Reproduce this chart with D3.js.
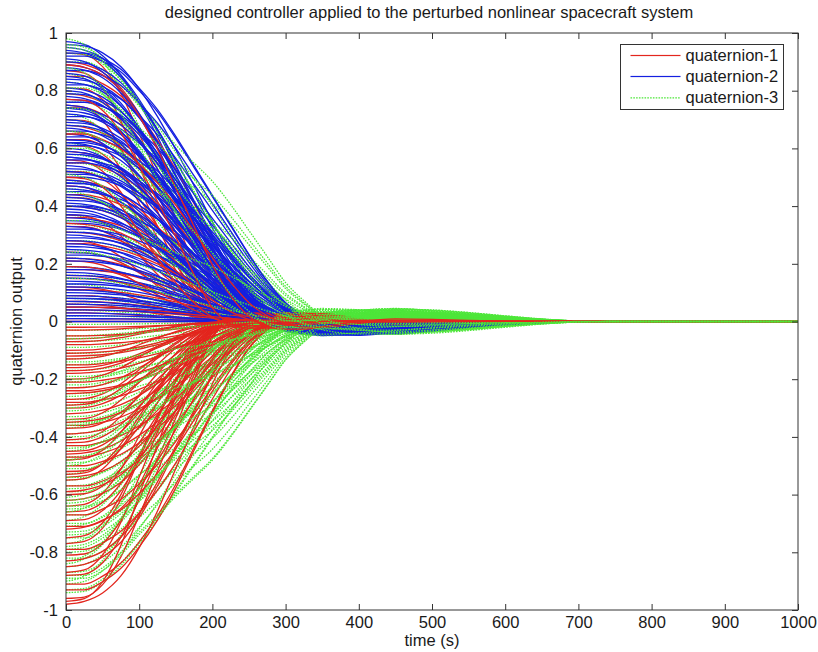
<!DOCTYPE html>
<html>
<head>
<meta charset="utf-8">
<script src="https://cdn.jsdelivr.net/npm/d3@7"></script>
<style>
  body { margin: 0; background: #fff; }
  text { font-family: "Liberation Sans", Arial, Helvetica, sans-serif; fill: #1a1a1a; }
  .axis path, .axis line { stroke: #333; }
</style>
</head>
<body>
<div id="vis"></div>
<script>
// time samples (s) shared by all the response profiles
const tSample = [0, 25, 50, 75, 100, 125, 150, 175, 200, 225, 250, 275, 300, 325, 350, 400, 450, 500, 550, 600, 650, 700, 750, 1000];

// normalised responses (fast -> slow)
const q1Profiles = [
  [1, 0.995, 0.95, 0.85, 0.70, 0.54, 0.38, 0.21, 0.06, -0.01, -0.03, -0.03, -0.02, -0.01, 0, 0.005, 0.005, 0.003, 0.002, 0.001, 0, 0, 0, 0],
  [1, 0.99, 0.96, 0.90, 0.80, 0.67, 0.52, 0.37, 0.22, 0.10, 0.02, -0.02, -0.03, -0.03, -0.02, 0, 0.01, 0.008, 0.004, 0.002, 0, 0, 0, 0],
  [1, 0.99, 0.93, 0.80, 0.62, 0.44, 0.27, 0.13, 0.03, -0.02, -0.03, -0.025, -0.015, -0.005, 0, 0.004, 0.004, 0.002, 0.001, 0, 0, 0, 0, 0],
  [1, 1, 0.97, 0.92, 0.84, 0.74, 0.62, 0.48, 0.34, 0.21, 0.10, 0.03, -0.01, -0.03, -0.03, -0.01, 0.005, 0.006, 0.004, 0.002, 0.001, 0, 0, 0]
];
const q2Profiles = [
  [1, 0.99, 0.95, 0.88, 0.78, 0.66, 0.52, 0.38, 0.25, 0.13, 0.04, -0.01, -0.035, -0.045, -0.05, -0.045, -0.035, -0.025, -0.015, -0.008, -0.003, 0, 0, 0],
  [1, 0.995, 0.97, 0.92, 0.84, 0.74, 0.62, 0.49, 0.36, 0.24, 0.13, 0.05, 0, -0.03, -0.045, -0.05, -0.04, -0.03, -0.018, -0.01, -0.004, 0, 0, 0],
  [1, 0.99, 0.96, 0.90, 0.81, 0.70, 0.57, 0.44, 0.31, 0.19, 0.09, 0.02, -0.02, -0.04, -0.048, -0.048, -0.038, -0.028, -0.017, -0.009, -0.004, 0, 0, 0],
  [1, 1, 0.98, 0.94, 0.87, 0.79, 0.69, 0.58, 0.47, 0.36, 0.25, 0.15, 0.07, 0.02, -0.015, -0.045, -0.045, -0.035, -0.022, -0.012, -0.005, 0, 0, 0]
];
const q3Profiles = [
  [1, 0.98, 0.92, 0.82, 0.69, 0.56, 0.43, 0.31, 0.20, 0.11, 0.04, -0.01, -0.035, -0.045, -0.05, -0.045, -0.035, -0.025, -0.015, -0.008, -0.003, 0, 0, 0],
  [1, 0.99, 0.95, 0.88, 0.79, 0.69, 0.58, 0.47, 0.36, 0.26, 0.17, 0.09, 0.03, -0.01, -0.03, -0.045, -0.045, -0.035, -0.025, -0.014, -0.006, -0.001, 0, 0],
  [1, 0.995, 0.96, 0.90, 0.82, 0.73, 0.63, 0.53, 0.43, 0.33, 0.24, 0.15, 0.08, 0.03, -0.01, -0.04, -0.048, -0.04, -0.03, -0.018, -0.008, -0.002, 0, 0],
  [1, 1, 0.97, 0.91, 0.83, 0.76, 0.68, 0.61, 0.54, 0.45, 0.35, 0.25, 0.15, 0.08, 0.02, -0.03, -0.048, -0.045, -0.035, -0.022, -0.010, -0.002, 0, 0]
];

// initial values of each run (t = 0)
const q1Start = [0.93, 0.90, 0.87, 0.85, 0.81, 0.79, 0.75, 0.74, 0.70, 0.68, 0.66, 0.63, 0.61, 0.59, 0.56, 0.55, 0.52, 0.49, 0.47, 0.44, 0.43, 0.40, 0.37, 0.36, 0.33, 0.31, 0.28, 0.27, 0.24, 0.22, 0.21, 0.18, 0.16, 0.15, 0.12, 0.11, 0.09, 0.07, 0.06, 0.04, 0.03, 0.01, 0.00, -0.02, -0.03, -0.05, -0.06, -0.08, -0.10, -0.11, -0.13, -0.15, -0.16, -0.18, -0.20, -0.21, -0.23, -0.25, -0.27, -0.28, -0.30, -0.32, -0.34, -0.36, -0.37, -0.39, -0.41, -0.43, -0.45, -0.46, -0.48, -0.50, -0.52, -0.54, -0.55, -0.57, -0.60, -0.62, -0.64, -0.67, -0.69, -0.72, -0.75, -0.79, -0.81, -0.85, -0.87, -0.91, -0.96, -0.98,
  -0.97, -0.93, -0.88, -0.83, -0.77, -0.71, -0.66, -0.59, -0.53, -0.47, -0.42, -0.35, -0.29, -0.24, -0.17, -0.12, -0.07, 0.05, 0.19, 0.34, 0.50, 0.65, 0.77, 0.89];
const q2Start = [0.97, 0.96, 0.94, 0.93, 0.91, 0.90, 0.88, 0.87, 0.86, 0.84, 0.83, 0.82, 0.80, 0.79, 0.78, 0.76, 0.75, 0.74, 0.72, 0.71, 0.70, 0.69, 0.67, 0.66, 0.65, 0.63, 0.62, 0.61, 0.60, 0.58, 0.57, 0.56, 0.54, 0.53, 0.52, 0.50, 0.49, 0.48, 0.46, 0.45, 0.44, 0.42, 0.41, 0.40, 0.38, 0.37, 0.36, 0.34, 0.33, 0.31, 0.30, 0.29, 0.27, 0.26, 0.25, 0.23, 0.22, 0.21, 0.19, 0.18, 0.17, 0.15, 0.14, 0.13, 0.11, 0.10, 0.09, 0.08, 0.07, 0.06, 0.05, 0.04, 0.03, 0.02, 0.01, 0.00, 0.74, 0.68, 0.59, 0.51, 0.43, 0.35, 0.81, 0.64, 0.47, 0.28, 0.89, 0.55, 0.39, 0.12,
  0.95, 0.92, 0.85, 0.77, 0.73, 0.62, 0.57, 0.48, 0.40, 0.32, 0.24, 0.16, 0.08, 0.05];
const q3Start = [0.98, 0.96, 0.93, 0.90, 0.86, 0.83, 0.79, 0.76, 0.72, 0.70, 0.68, 0.65, 0.62, 0.58, 0.55, 0.52, 0.49, 0.46, 0.43, 0.40, 0.37, 0.34, 0.31, 0.28, 0.25, 0.22, 0.19, 0.16, 0.13, 0.11, 0.09, 0.06, 0.04, 0.02, -0.01, -0.03, -0.05, -0.07, -0.09, -0.11, -0.13, -0.15, -0.17, -0.19, -0.21, -0.23, -0.25, -0.27, -0.29, -0.31, -0.33, -0.35, -0.37, -0.39, -0.41, -0.43, -0.45, -0.47, -0.49, -0.51, -0.53, -0.55, -0.57, -0.59, -0.61, -0.63, -0.65, -0.67, -0.69, -0.71, -0.73, -0.75, -0.77, -0.79, -0.80, -0.82, -0.84, -0.85, -0.87, -0.88, -0.90, -0.91, -0.93, -0.64, -0.48, -0.36, -0.22, 0.60, 0.45, 0.08,
  -0.94, -0.89, -0.83, -0.78, -0.74, -0.70, -0.66, -0.62, -0.58, -0.54, -0.50, -0.44, -0.40, -0.34, -0.30, -0.26, -0.20, -0.14, -0.06, 0.15, 0.24, 0.35, 0.51, 0.66, 0.74, 0.81, 0.88, 0.95];

const xTicks = [0, 100, 200, 300, 400, 500, 600, 700, 800, 900, 1000];
const yTicks = [-1, -0.8, -0.6, -0.4, -0.2, 0, 0.2, 0.4, 0.6, 0.8, 1];
const seriesNames = ["quaternion-1", "quaternion-2", "quaternion-3"];
const seriesColors = ["#e3261e", "#1420e0", "#4ee63a"];

const width = 818;
const height = 652;
const margins = {top: 33, bottom: 42, left: 66, right: 20};
const plotW = width - margins.left - margins.right;
const plotH = height - margins.top - margins.bottom;
const fontSize = "16.5px";

const xScale = d3.scaleLinear().domain([0, 1000]).range([0, plotW]);
const yScale = d3.scaleLinear().domain([-1, 1]).range([plotH, 0]);

const svg = d3.select("#vis").append("svg").attr("width", width).attr("height", height);
const g = svg.append("g").attr("transform", `translate(${margins.left}, ${margins.top})`);

g.append("defs").append("clipPath").attr("id", "clip")
  .append("rect").attr("width", plotW).attr("height", plotH);

const line = d3.line()
  .x(d => xScale(d[0]))
  .y(d => yScale(d[1]))
  .curve(d3.curveMonotoneX);

// one entry per curve, interleaved run by run like the hold-on plotting
const sets = [[q1Start, q1Profiles], [q2Start, q2Profiles], [q3Start, q3Profiles]];
const curves = [];
const nRuns = d3.max(sets, s => s[0].length);
for (let i = 0; i < nRuns; i++) {
  sets.forEach(([starts, profiles], s) => {
    if (i >= starts.length) return;
    const prof = profiles[i % profiles.length];
    curves.push({series: s, pts: tSample.map((t, k) => [t, starts[i] * prof[k]])});
  });
}

g.append("g").attr("clip-path", "url(#clip)")
  .selectAll("path.run").data(curves)
  .enter().append("path")
  .attr("class", "run")
  .attr("d", d => line(d.pts))
  .attr("fill", "none")
  .attr("stroke", d => seriesColors[d.series])
  .attr("stroke-width", 1.3)
  .attr("stroke-dasharray", d => d.series === 2 ? "1.6,1.2" : null);

// axes, ticks pointing inwards on all four sides
const fmt = d => String(d);
g.append("g").attr("class", "axis").attr("transform", `translate(0, ${plotH})`)
  .call(d3.axisBottom(xScale).tickValues(xTicks).tickFormat(fmt).tickSizeInner(-6).tickSizeOuter(0).tickPadding(5))
  .call(a => a.selectAll("text").style("font-size", fontSize).attr("dy", "0.8em"));
g.append("g").attr("class", "axis")
  .call(d3.axisTop(xScale).tickValues(xTicks).tickFormat("").tickSizeInner(-6).tickSizeOuter(0));
g.append("g").attr("class", "axis")
  .call(d3.axisLeft(yScale).tickValues(yTicks).tickFormat(fmt).tickSizeInner(-6).tickSizeOuter(0).tickPadding(8))
  .call(a => a.selectAll("text").style("font-size", fontSize));
g.append("g").attr("class", "axis").attr("transform", `translate(${plotW}, 0)`)
  .call(d3.axisRight(yScale).tickValues(yTicks).tickFormat("").tickSizeInner(-6).tickSizeOuter(0));
g.selectAll(".axis .domain").remove();
g.append("rect").attr("width", plotW).attr("height", plotH)
  .attr("fill", "none").attr("stroke", "#333").attr("stroke-width", 1);

// titles
svg.append("text").attr("x", margins.left + plotW / 2 - 3).attr("y", 18)
  .attr("text-anchor", "middle").style("font-size", fontSize)
  .text("designed controller applied to the perturbed nonlinear spacecraft system");
svg.append("text").attr("x", margins.left + plotW / 2).attr("y", 646)
  .attr("text-anchor", "middle").style("font-size", fontSize).text("time (s)");
svg.append("text").attr("transform", `translate(22, ${margins.top + plotH / 2}) rotate(-90)`)
  .attr("text-anchor", "middle").style("font-size", fontSize).text("quaternion output");

// legend (solid samples as thin filled rects, dotted one as a dashed line)
const legend = svg.append("g").attr("transform", "translate(620.5, 44.5)");
legend.append("rect").attr("width", 163).attr("height", 65)
  .attr("fill", "#fff").attr("stroke", "#333");
seriesNames.forEach((name, i) => {
  const row = legend.append("g").attr("transform", `translate(0, ${11 + i * 21})`);
  if (i === 2) {
    row.append("line").attr("x1", 10).attr("x2", 60).attr("y1", 0.3).attr("y2", 0.3)
      .attr("stroke", seriesColors[i]).attr("stroke-width", 1.2)
      .attr("stroke-dasharray", "1.6,1.2");
  } else {
    row.append("rect").attr("x", 10).attr("y", -0.6).attr("width", 50).attr("height", 1.2)
      .attr("fill", seriesColors[i]);
  }
  row.append("text").attr("x", 65).attr("dy", "0.35em").style("font-size", fontSize).text(name);
});
</script>
</body>
</html>
